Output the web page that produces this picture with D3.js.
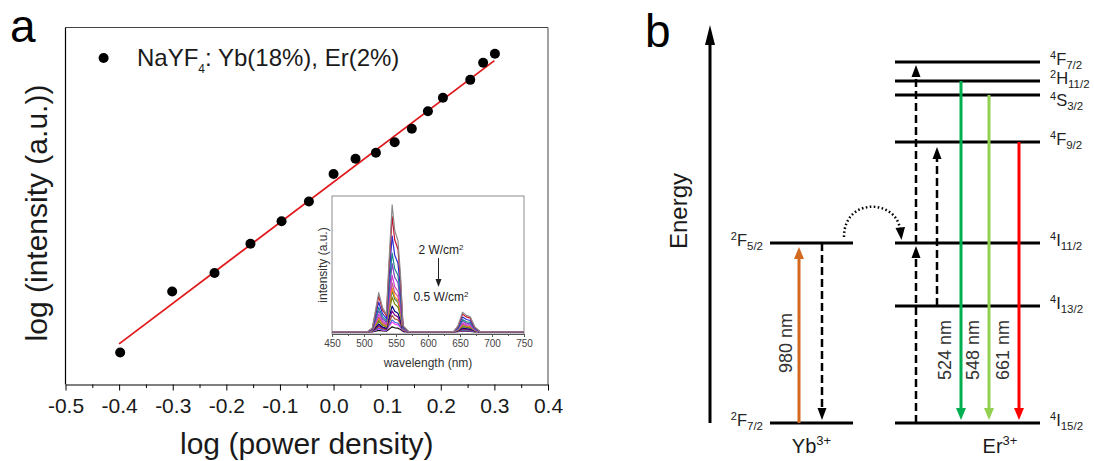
<!DOCTYPE html>
<html>
<head>
<meta charset="utf-8">
<script src="https://cdn.jsdelivr.net/npm/d3@7"></script>
<style>
  html, body { margin: 0; padding: 0; background: #fff; }
  svg { display: block; font-family: "Liberation Sans", Arial, sans-serif; }
</style>
</head>
<body>
<svg id="chart" width="1094" height="461"></svg>
<script>
// ---------------- panel a : power dependence ----------------
const logPower = [-0.398, -0.301, -0.222, -0.155, -0.097, -0.046, 0.0, 0.041,
  0.079, 0.114, 0.146, 0.176, 0.204, 0.255, 0.279, 0.301];
const logIntensity = [3.650, 3.935, 4.022, 4.158, 4.264, 4.356, 4.485, 4.556,
  4.584, 4.633, 4.696, 4.778, 4.841, 4.925, 5.005, 5.047];
const fitX = [-0.4, 0.3];
const fitY = [3.690, 5.015];
const xTicks = [-0.5, -0.4, -0.3, -0.2, -0.1, 0.0, 0.1, 0.2, 0.3, 0.4];
const xTickLabels = ['-0.5', '-0.4', '-0.3', '-0.2', '-0.1', '0.0', '0.1', '0.2', '0.3', '0.4'];
const xMinorTicks = [-0.45, -0.35, -0.25, -0.15, -0.05, 0.05, 0.15, 0.25, 0.35];

// inset : emission spectra, 2 W/cm2 (first) down to 0.4 W/cm2 (last)
const wavelengths = [450, 505, 513, 518, 523, 529, 535, 539, 544, 548, 553, 557, 561, 570,
  640, 647, 654, 660, 666, 673, 682, 750];
const spectra = [
  [.015,.015,.043,.171,.300,.190,.144,.521,.935,.751,.677,.429,.061,.015,.015,.061,.158,.135,.125,.052,.015,.015],
  [.015,.015,.040,.157,.274,.174,.132,.474,.850,.683,.616,.391,.057,.015,.015,.057,.144,.124,.115,.048,.015,.015],
  [.015,.015,.036,.133,.230,.147,.112,.397,.710,.571,.515,.328,.050,.015,.015,.050,.123,.105,.098,.043,.015,.015],
  [.015,.015,.032,.112,.192,.124,.095,.330,.587,.473,.427,.272,.044,.015,.015,.044,.104,.089,.084,.038,.015,.015],
  [.015,.015,.030,.099,.168,.109,.084,.287,.510,.411,.371,.238,.040,.015,.015,.040,.092,.079,.074,.035,.015,.015],
  [.015,.015,.027,.085,.142,.093,.072,.241,.425,.343,.310,.200,.036,.015,.015,.036,.079,.068,.064,.031,.015,.015],
  [.015,.015,.026,.075,.125,.082,.065,.210,.370,.299,.271,.175,.033,.015,.015,.033,.070,.061,.058,.029,.015,.015],
  [.015,.015,.025,.069,.113,.075,.059,.189,.332,.269,.243,.158,.031,.015,.015,.031,.064,.056,.053,.028,.015,.015],
  [.015,.015,.024,.065,.107,.071,.057,.178,.312,.253,.229,.149,.030,.015,.015,.030,.061,.054,.051,.027,.015,.015],
  [.015,.015,.023,.058,.093,.063,.050,.154,.267,.217,.196,.128,.028,.015,.015,.028,.054,.048,.045,.025,.015,.015],
  [.015,.015,.021,.047,.073,.051,.041,.118,.202,.165,.150,.099,.024,.015,.015,.024,.044,.039,.037,.022,.015,.015],
  [.015,.015,.020,.041,.062,.044,.036,.099,.167,.137,.124,.083,.023,.015,.015,.023,.039,.035,.033,.021,.015,.015],
  [.015,.015,.019,.035,.052,.038,.032,.080,.134,.110,.101,.069,.021,.015,.015,.021,.033,.030,.029,.020,.015,.015],
  [.015,.015,.018,.030,.042,.032,.027,.063,.102,.085,.078,.054,.019,.015,.015,.019,.028,.026,.025,.018,.015,.015],
  [.015,.015,.017,.027,.037,.028,.025,.054,.086,.072,.066,.047,.019,.015,.015,.019,.026,.024,.024,.018,.015,.015],
  [.015,.015,.016,.021,.026,.022,.020,.035,.052,.045,.042,.032,.017,.015,.015,.017,.021,.020,.019,.016,.015,.015]
];
const spectraColors = ['#8a8a8a', '#c8102e', '#2b2bd9', '#1a8a8a', '#7b3fc4', '#d040d0', '#c06080',
  '#ff8c00', '#2e8b57', '#808000', '#000080', '#800080', '#a0522d', '#4169e1', '#ff40ff', '#111111'];
const insetTicks = [450, 500, 550, 600, 650, 700, 750];
const insetMinor = [475, 525, 575, 625, 675, 725];

// ---------------- panel b : energy levels ----------------
const ybTerms = [['2', 'F', '7/2'], ['2', 'F', '5/2']];
const ybEnergy = [0, 10.22];
const erTerms = [['4', 'I', '15/2'], ['4', 'I', '13/2'], ['4', 'I', '11/2'], ['4', 'F', '9/2'],
  ['4', 'S', '3/2'], ['2', 'H', '11/2'], ['4', 'F', '7/2']];
const erEnergy = [0, 6.64, 10.22, 15.96, 18.63, 19.42, 20.5];
const emissionFrom = [5, 4, 3];          // index into erTerms, all end on 4I15/2
const emissionNm = ['524 nm', '548 nm', '661 nm'];
const emissionColors = ['#00b050', '#92d050', '#ff0000'];
const pumpLabel = '980 nm';

const svg = d3.select('#chart');
const INK = '#1a1a1a';

// =========================================================
// panel a
// =========================================================
const A = { left: 65.5, right: 548, top: 27.5, bottom: 384.5 };
const x = d3.scaleLinear().domain([-0.5, 0.4]).range([A.left, A.right]);
const y = d3.scaleLinear().domain([3.5, 5.17]).range([A.bottom, A.top]);

const ga = svg.append('g');

// frame
ga.append('path')
  .attr('d', `M${A.left},${A.top}H${A.right}V${A.bottom}`)
  .attr('fill', 'none').attr('stroke', '#444').attr('stroke-width', 1);
ga.append('line')
  .attr('x1', A.left).attr('x2', A.left).attr('y1', A.top).attr('y2', A.bottom)
  .attr('stroke', '#000').attr('stroke-width', 1.2);

const gx = ga.append('g').attr('transform', `translate(0,${A.bottom})`)
  .call(d3.axisBottom(x).tickValues(xTicks).tickFormat((d, i) => xTickLabels[i])
    .tickSize(6).tickSizeOuter(0).tickPadding(8));
gx.select('.domain').attr('stroke-width', 1.2);
gx.selectAll('text').attr('font-size', 21).attr('fill', INK)
  .attr('font-family', '"Liberation Sans", Arial, sans-serif');

const gxm = ga.append('g').attr('transform', `translate(0,${A.bottom})`)
  .call(d3.axisBottom(x).tickValues(xMinorTicks).tickFormat('').tickSize(3.5).tickSizeOuter(0));
gxm.select('.domain').remove();

ga.append('text')
  .attr('x', (A.left + A.right) / 2).attr('y', 454)
  .attr('text-anchor', 'middle').attr('font-size', 30).attr('fill', INK)
  .text('log (power density)');

ga.append('text')
  .attr('transform', `translate(47,${(A.top + A.bottom) / 2 + 7}) rotate(-90)`)
  .attr('text-anchor', 'middle').attr('font-size', 30).attr('fill', INK)
  .text('log (intensity (a.u.))');

ga.append('text').attr('x', 10).attr('y', 42)
  .attr('font-size', 46).attr('fill', '#000').text('a');

// fit
const fitLine = d3.line().x(d => x(d[0])).y(d => y(d[1]));
ga.append('path')
  .datum(d3.zip(fitX, fitY))
  .attr('d', fitLine)
  .attr('fill', 'none').attr('stroke', '#e0181b').attr('stroke-width', 1.8);

// data points
ga.selectAll('circle.pt').data(d3.zip(logPower, logIntensity)).join('circle')
  .attr('class', 'pt')
  .attr('cx', d => x(d[0])).attr('cy', d => y(d[1]))
  .attr('r', 5).attr('fill', '#000');

// legend
ga.append('circle').attr('cx', 103.6).attr('cy', 58).attr('r', 5).attr('fill', '#000');
const lt = ga.append('text').attr('x', 137).attr('y', 66)
  .attr('font-size', 24).attr('fill', INK);
lt.append('tspan').text('NaYF');
lt.append('tspan').attr('font-size', 12).attr('dy', 7).text('4');
lt.append('tspan').attr('dy', -7).text(': Yb(18%), Er(2%)');

// ---- inset
const I = { left: 332, right: 524, top: 196, bottom: 334 };
const ix = d3.scaleLinear().domain([450, 750]).range([I.left, I.right]);
const iy = d3.scaleLinear().domain([0, 1]).range([I.bottom, I.top]);
const gi = ga.append('g');

gi.append('rect')
  .attr('x', I.left).attr('y', I.top)
  .attr('width', I.right - I.left).attr('height', I.bottom - I.top)
  .attr('fill', '#fff').attr('stroke', '#8c8c8c').attr('stroke-width', 1);

const specLine = d3.line().x((d, i) => ix(wavelengths[i])).y(d => iy(d));
// draw the weakest first so the strongest curves sit on top
gi.selectAll('path.spec').data(spectra.slice().reverse()).join('path')
  .attr('class', 'spec')
  .attr('d', specLine)
  .attr('fill', 'none')
  .attr('stroke', (d, i) => spectraColors[spectra.length - 1 - i])
  .attr('stroke-width', 1.2)
  .attr('stroke-linejoin', 'round');

const gix = gi.append('g').attr('transform', `translate(0,${I.bottom})`)
  .call(d3.axisBottom(ix).tickValues(insetTicks).tickFormat(d3.format('d'))
    .tickSize(3).tickSizeOuter(0).tickPadding(3));
gix.select('.domain').attr('stroke', '#555');
gix.selectAll('line').attr('stroke', '#555');
gix.selectAll('text').attr('font-size', 10).attr('fill', '#444')
  .attr('font-family', '"Liberation Sans", Arial, sans-serif');
const gixm = gi.append('g').attr('transform', `translate(0,${I.bottom})`)
  .call(d3.axisBottom(ix).tickValues(insetMinor).tickFormat('').tickSize(2).tickSizeOuter(0));
gixm.select('.domain').remove();
gixm.selectAll('line').attr('stroke', '#555');

gi.append('text')
  .attr('x', (I.left + I.right) / 2).attr('y', 367)
  .attr('text-anchor', 'middle').attr('font-size', 12).attr('fill', '#333')
  .text('wavelength (nm)');
gi.append('text')
  .attr('transform', `translate(327,${(I.top + I.bottom) / 2}) rotate(-90)`)
  .attr('text-anchor', 'middle').attr('font-size', 12).attr('fill', '#333')
  .text('intensity (a.u.)');

function powerLabel(px, py, txt) {
  const t = gi.append('text').attr('x', px).attr('y', py)
    .attr('text-anchor', 'middle').attr('font-size', 12).attr('fill', '#222');
  t.append('tspan').text(txt);
  t.append('tspan').attr('font-size', 8).attr('dy', -4).text('2');
}
powerLabel(441, 254, '2 W/cm');
powerLabel(441, 301, '0.5 W/cm');
gi.append('line').attr('x1', 438.5).attr('x2', 438.5).attr('y1', 258).attr('y2', 280)
  .attr('stroke', '#222').attr('stroke-width', 1);
gi.append('path').attr('d', 'M438.5,287L435.5,279L441.5,279Z').attr('fill', '#222');

// =========================================================
// panel b
// =========================================================
const e = d3.scaleLinear().domain([0, 20.5]).range([423, 62]);
const B = {
  axis: 710, axisTop: 25,
  ybL: 770, ybR: 853, erL: 895, erR: 1040,
  pump: 799, back: 822, esa1: 916, esa2: 937,
  emis: [961, 989, 1019], erLabel: 1000
};
const gb = svg.append('g');

gb.append('text').attr('x', 645).attr('y', 47)
  .attr('font-size', 46).attr('fill', '#000').text('b');

function arrow(g, ax, yFrom, yTo, o) {
  const dir = yTo < yFrom ? -1 : 1;
  const base = yTo - dir * o.headL;
  g.append('line')
    .attr('x1', ax).attr('x2', ax).attr('y1', yFrom).attr('y2', base)
    .attr('stroke', o.color).attr('stroke-width', o.width)
    .attr('stroke-dasharray', o.dash || null);
  g.append('path')
    .attr('d', `M${ax},${yTo}L${ax - o.headW / 2},${base}L${ax + o.headW / 2},${base}Z`)
    .attr('fill', o.color);
}

// energy axis
arrow(gb, B.axis, e(0), B.axisTop, { color: '#000', width: 3, headW: 10, headL: 20 });
gb.append('text')
  .attr('transform', `translate(687,211) rotate(-90)`)
  .attr('text-anchor', 'middle').attr('font-size', 24).attr('fill', INK)
  .text('Energy');

function termLabel(g, tx, ty, term, anchor) {
  const t = g.append('text').attr('x', tx).attr('y', ty)
    .attr('text-anchor', anchor).attr('fill', '#222').attr('font-size', 16.5);
  t.append('tspan').attr('font-size', 11).attr('dy', -6).text(term[0]);
  t.append('tspan').attr('dy', 6).text(term[1]);
  t.append('tspan').attr('font-size', 11.5).attr('dy', 4).text(term[2]);
}

// levels
ybEnergy.forEach((en, i) => {
  gb.append('line').attr('x1', B.ybL).attr('x2', B.ybR)
    .attr('y1', e(en)).attr('y2', e(en))
    .attr('stroke', '#000').attr('stroke-width', 3);
  termLabel(gb, 763, e(en) + 3, ybTerms[i], 'end');
});
erEnergy.forEach((en, i) => {
  gb.append('line').attr('x1', B.erL).attr('x2', B.erR)
    .attr('y1', e(en)).attr('y2', e(en))
    .attr('stroke', '#000').attr('stroke-width', 3);
  const shift = erTerms[i][1] === 'S' ? 8 : 0;
  termLabel(gb, 1050, e(en) + 3 + shift, erTerms[i], 'start');
});

// Yb: 980 nm absorption and back relaxation
arrow(gb, B.pump, e(ybEnergy[0]), e(ybEnergy[1]) + 4,
  { color: '#d2691e', width: 3, headW: 10, headL: 12 });
gb.append('text')
  .attr('transform', `translate(${B.pump - 7},343) rotate(-90)`)
  .attr('text-anchor', 'middle').attr('font-size', 18).attr('fill', '#333')
  .text(pumpLabel);
arrow(gb, B.back, e(ybEnergy[1]), e(ybEnergy[0]) - 3,
  { color: '#000', width: 2.5, headW: 9, headL: 12, dash: '8,4' });

// energy transfer Yb -> Er (dotted curve)
const sx = B.ybR - 9, sy = e(ybEnergy[1]) - 6;
const ex = B.erL + 5, ey = e(erEnergy[2]) - 14;
gb.append('path')
  .attr('d', `M${sx},${sy}C${sx},${sy - 40} ${ex - 4},${sy - 38} ${ex},${ey}`)
  .attr('fill', 'none').attr('stroke', '#000').attr('stroke-width', 2.5)
  .attr('stroke-dasharray', '1.6,2.4');
gb.append('path')
  .attr('d', `M${ex + 1.5},${ey + 11}L${ex - 4.5},${ey - 1}L${ex + 5},${ey - 2}Z`)
  .attr('fill', '#000');

// Er: excited-state absorption (dashed)
const dashed = { color: '#000', width: 2.5, headW: 9, headL: 12, dash: '8,4' };
arrow(gb, B.esa1, e(erEnergy[0]), e(erEnergy[2]) + 3, dashed);
arrow(gb, B.esa1, e(erEnergy[2]), e(erEnergy[6]) + 3, dashed);
arrow(gb, B.esa2, e(erEnergy[1]), e(erEnergy[3]) + 5, dashed);

// Er: emissions
emissionFrom.forEach((lv, i) => {
  arrow(gb, B.emis[i], e(erEnergy[lv]), e(erEnergy[0]) - 3,
    { color: emissionColors[i], width: 3, headW: 10, headL: 12 });
  gb.append('text')
    .attr('transform', `translate(${B.emis[i] - 10},350) rotate(-90)`)
    .attr('text-anchor', 'middle').attr('font-size', 18).attr('fill', '#333')
    .text(emissionNm[i]);
});

// ion labels
function ionLabel(cx, name) {
  const t = gb.append('text').attr('x', cx).attr('y', 453)
    .attr('text-anchor', 'middle').attr('font-size', 20).attr('fill', INK);
  t.append('tspan').text(name);
  t.append('tspan').attr('font-size', 13).attr('dy', -8).text('3+');
}
ionLabel((B.ybL + B.ybR) / 2, 'Yb');
ionLabel(B.erLabel, 'Er');
</script>
</body>
</html>
